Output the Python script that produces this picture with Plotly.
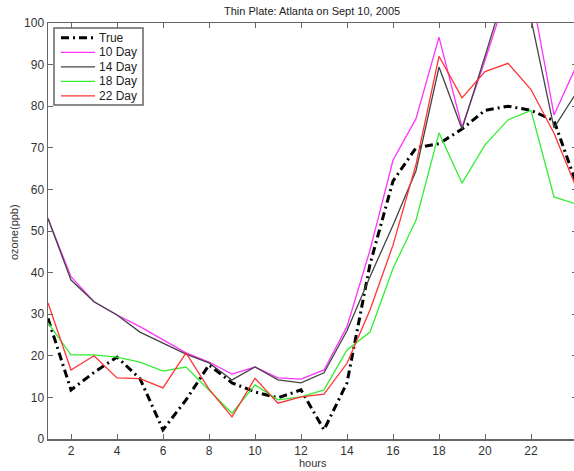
import plotly.graph_objects as go

hours = list(range(1, 25))
true_vals = [29, 11.8, 16, 19.7, 14.5, 2.2, 9.4, 17.8, 13.5, 11.3, 9.9, 11.8, 2.2, 13.5,
             42, 62, 70, 71, 74.5, 79, 80, 79, 76.5, 61]
day10 = [53, 39, 33, 29.8, 27, 23.8, 20.7, 18.5, 15.6, 17.3, 14.7, 14.4, 16.6, 27,
         45.4, 67, 77, 96.6, 75, 91, 108, 108, 77.9, 90]
day14 = [53, 38.2, 33, 29.8, 25.7, 23, 20.4, 18.3, 14.2, 17.3, 14.2, 13.5, 15.9, 26,
         39, 51.4, 64.5, 89.4, 74.5, 92, 110, 101, 74.8, 83.5]
day18 = [27.9, 20.2, 20.2, 19.7, 18.5, 16.3, 17.3, 11.8, 6.2, 13, 9.4, 10.1, 11.8, 21.4,
         25.7, 41, 52.6, 73.6, 61.5, 70.7, 76.7, 79, 58.2, 56.4]
day22 = [32.7, 16.6, 20, 14.7, 14.5, 12.3, 20.7, 12, 5.3, 14.6, 8.6, 10.1, 10.8, 18.2,
         31, 46.6, 66, 92, 82, 88.3, 90.3, 84, 73.5, 60]

names = ["True", "10 Day", "14 Day", "18 Day", "22 Day"]
colors = ["#000000", "#ff33ff", "#444444", "#33ee33", "#ff3333"]
widths = [3, 1.3, 1.3, 1.3, 1.3]
dashes = ["8px,4px,2px,4px", "solid", "solid", "solid", "solid"]
values = [true_vals, day10, day14, day18, day22]

FONT = "Liberation Sans, Arial, sans-serif"

# plot area in page pixels (the page body margin is removed below)
W, H = 580, 471
PL, PR, PT, PB = 48, 577, 23, 439


def px(xs):
    return (xs - PL) / (PR - PL)


def py(ys):
    return (PB - ys) / (PB - PT)


fig = go.Figure()
for name, vals, color, w, dash in zip(names, values, colors, widths, dashes):
    fig.add_trace(go.Scatter(x=hours, y=vals, mode="lines", name=name, showlegend=False,
                             line=dict(color=color, width=w, dash=dash)))

axis_common = dict(showgrid=False, zeroline=False, showline=True, linecolor="#666666",
                   linewidth=1.5, ticks="inside", ticklen=5, tickcolor="#666666",
                   automargin=False, mirror="ticks",
                   tickfont=dict(family=FONT, size=12, color="#333333"))

shapes = [dict(type="rect", xref="paper", yref="paper", x0=px(54), x1=px(143),
               y0=py(105), y1=py(28), line=dict(color="#666666", width=1.5),
               fillcolor="white", layer="above")]
annotations = [
    dict(text="Thin Plate: Atlanta on Sept 10, 2005", xref="paper", yref="paper",
         x=px(312), y=py(11), xanchor="center", yanchor="middle",
         showarrow=False, font=dict(family=FONT, size=11, color="#222222")),
    dict(text="hours", xref="paper", yref="paper",
         x=px(313), y=py(463), xanchor="center", yanchor="middle",
         showarrow=False, font=dict(family=FONT, size=11, color="#333333")),
    dict(text="ozone(ppb)", xref="paper", yref="paper", textangle=-90,
         x=px(14), y=py(232), xanchor="center", yanchor="middle",
         showarrow=False, font=dict(family=FONT, size=11, color="#333333")),
]
row_y = [37.7, 52.3, 66.8, 81.3, 95.8]
for name, color, w, dash, ry in zip(names, colors, widths, dashes, row_y):
    shapes.append(dict(type="line", xref="paper", yref="paper", x0=px(61), x1=px(95),
                       y0=py(ry), y1=py(ry), layer="above",
                       line=dict(color=color, width=w, dash=dash)))
    annotations.append(dict(text=name, xref="paper", yref="paper", x=px(97), y=py(ry),
                            xanchor="left", yanchor="middle", showarrow=False,
                            font=dict(family=FONT, size=12, color="#222222")))

fig.update_layout(
    width=W, height=H,
    margin=dict(l=PL, r=W - PR, t=PT, b=H - PB, autoexpand=False),
    plot_bgcolor="white", paper_bgcolor="white",
    xaxis=dict(range=[1, 24], tickvals=list(range(2, 25, 2)), **axis_common),
    yaxis=dict(range=[0, 100], tickvals=list(range(0, 101, 10)), **axis_common),
    showlegend=False,
    hovermode=False,
    shapes=shapes,
    annotations=annotations,
)

fig.write_html("out.html", config={"displayModeBar": False, "staticPlot": True},
               post_script="document.body.style.margin='0';document.body.style.overflow='hidden';")
